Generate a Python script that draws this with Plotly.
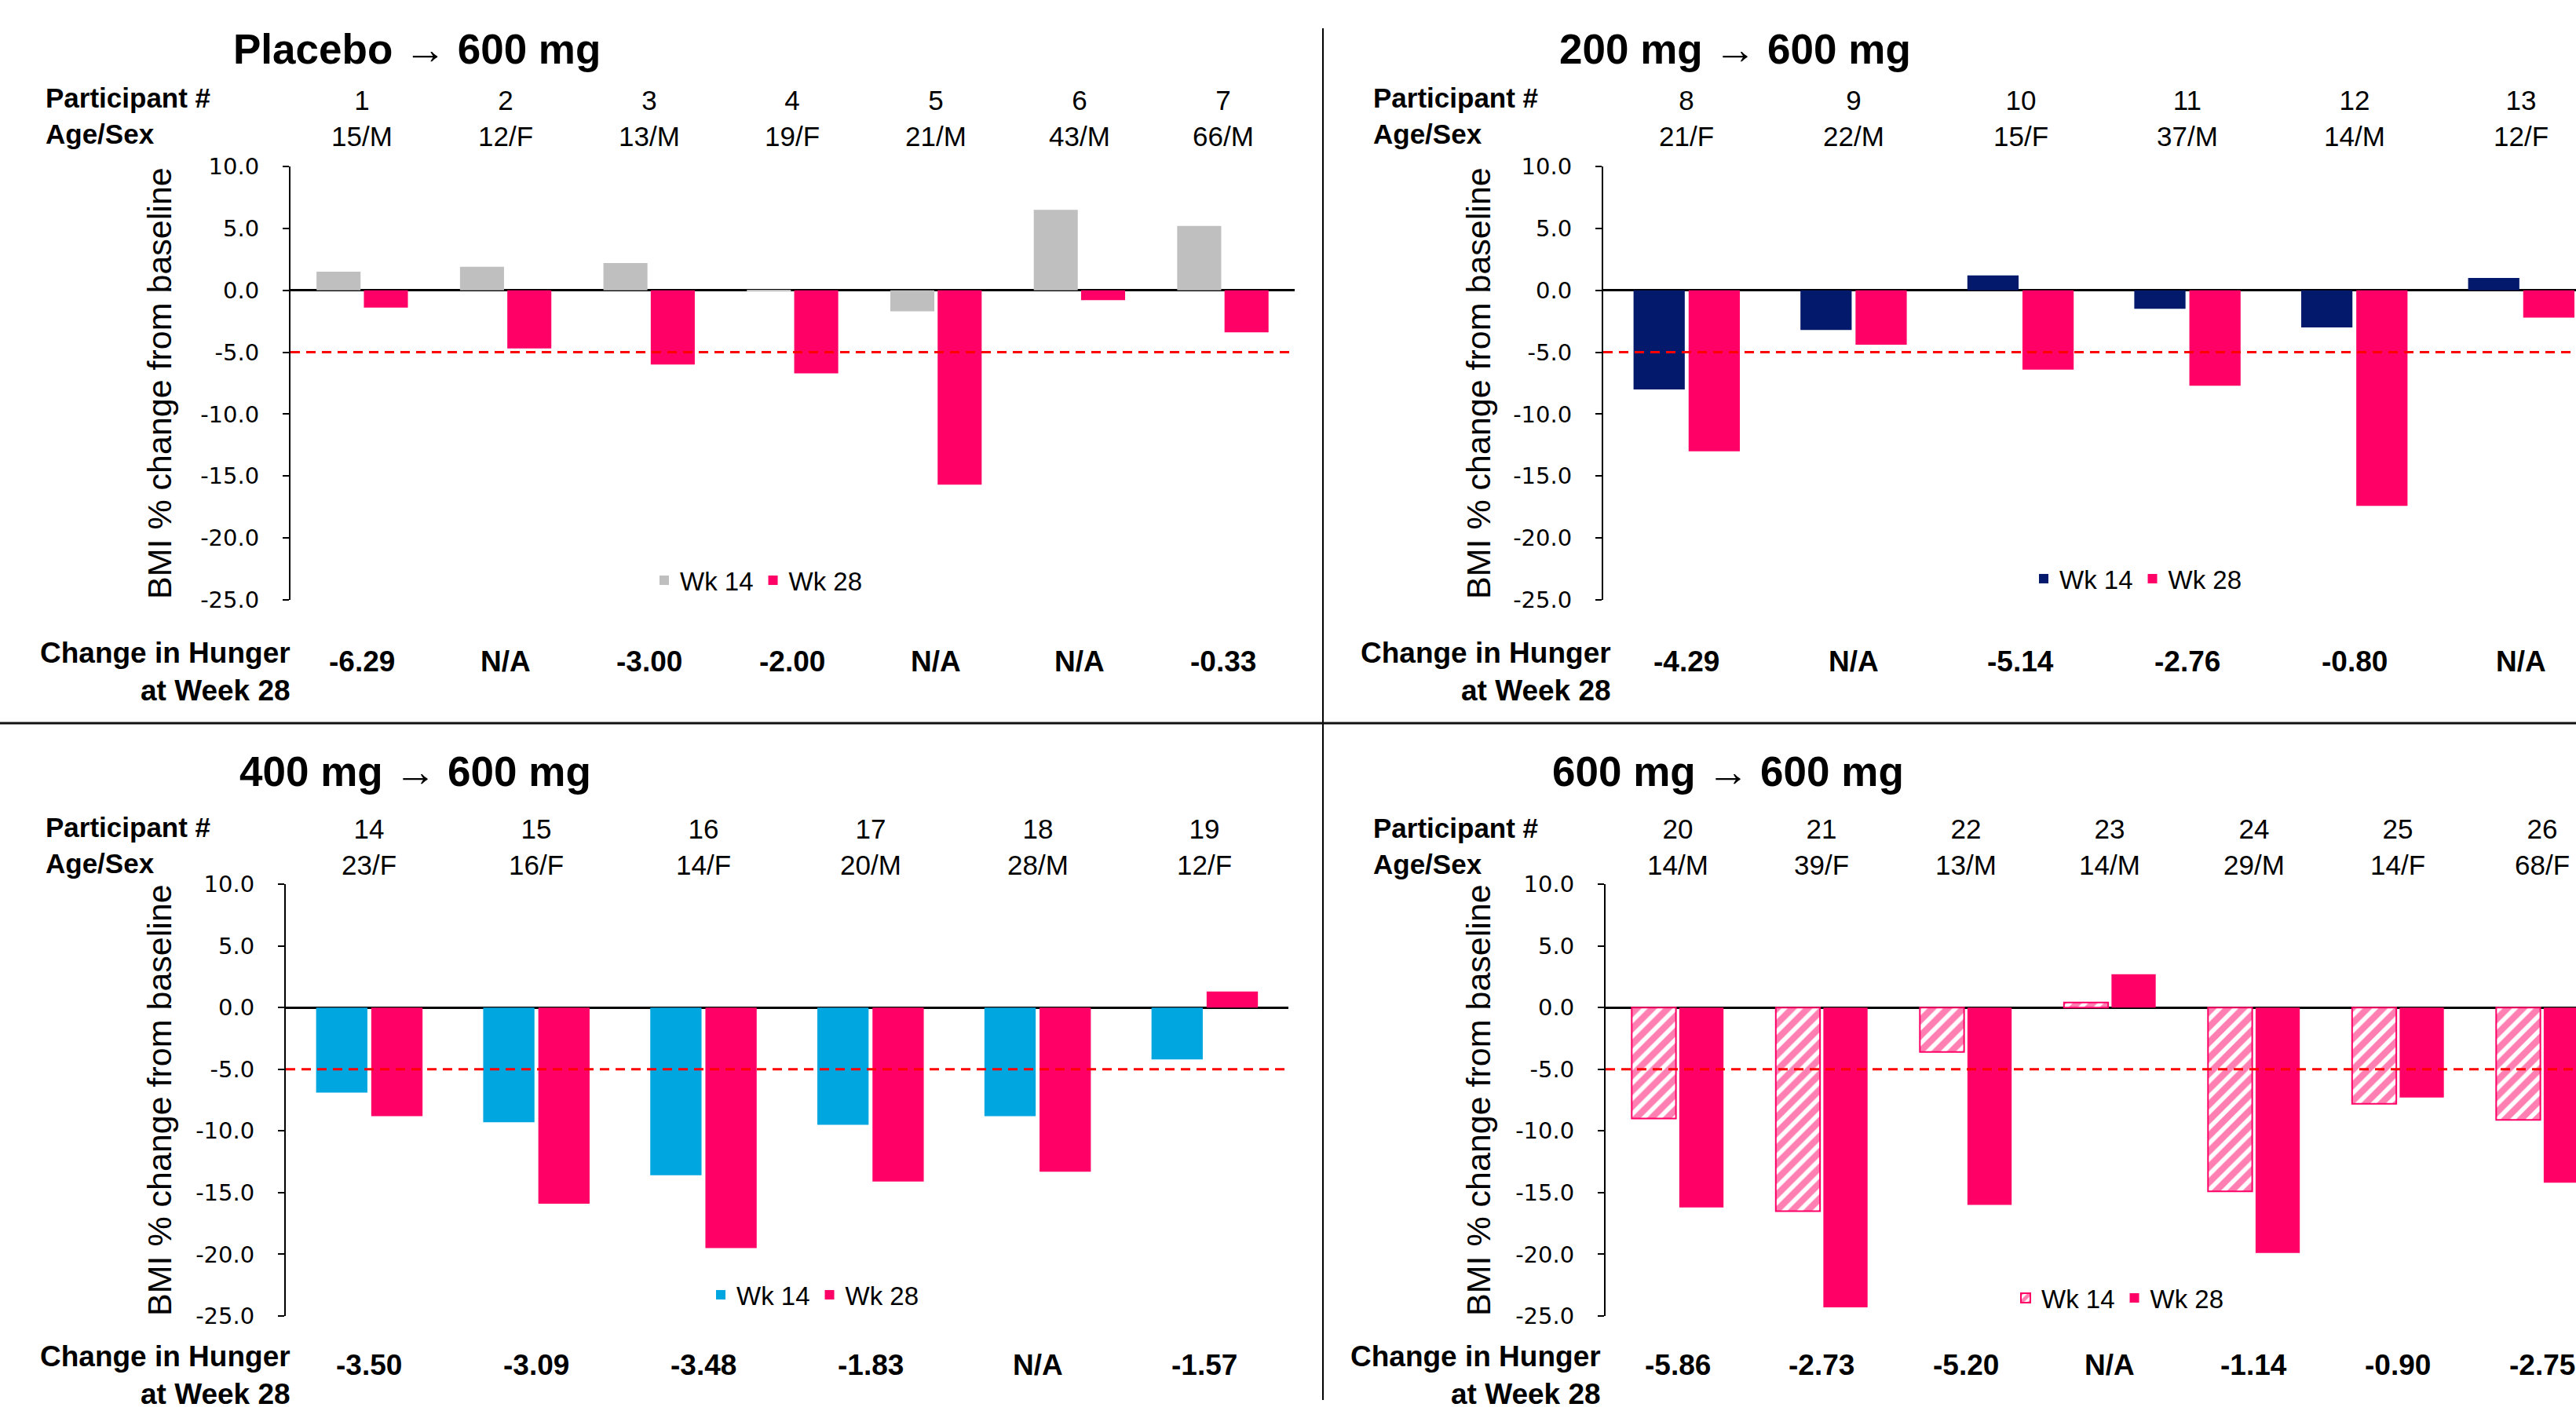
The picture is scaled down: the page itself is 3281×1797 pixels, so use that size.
import plotly.graph_objects as go

# ---------------- DATA ----------------
P1_TITLE = "Placebo \u2192 600 mg"
P1_IDS = ["1", "2", "3", "4", "5", "6", "7"]
P1_AGESEX = ["15/M", "12/F", "13/M", "19/F", "21/M", "43/M", "66/M"]
P1_WK14 = [1.5, 1.9, 2.2, -0.1, -1.7, 6.5, 5.2]
P1_WK28 = [-1.4, -4.7, -6.0, -6.7, -15.7, -0.8, -3.4]
P1_HUNGER = ["-6.29", "N/A", "-3.00", "-2.00", "N/A", "N/A", "-0.33"]

P2_TITLE = "200 mg \u2192 600 mg"
P2_IDS = ["8", "9", "10", "11", "12", "13"]
P2_AGESEX = ["21/F", "22/M", "15/F", "37/M", "14/M", "12/F"]
P2_WK14 = [-8.0, -3.2, 1.2, -1.5, -3.0, 1.0]
P2_WK28 = [-13.0, -4.4, -6.4, -7.7, -17.4, -2.2]
P2_HUNGER = ["-4.29", "N/A", "-5.14", "-2.76", "-0.80", "N/A"]

P3_TITLE = "400 mg \u2192 600 mg"
P3_IDS = ["14", "15", "16", "17", "18", "19"]
P3_AGESEX = ["23/F", "16/F", "14/F", "20/M", "28/M", "12/F"]
P3_WK14 = [-6.9, -9.3, -13.6, -9.5, -8.8, -4.2]
P3_WK28 = [-8.8, -15.9, -19.5, -14.1, -13.3, 1.3]
P3_HUNGER = ["-3.50", "-3.09", "-3.48", "-1.83", "N/A", "-1.57"]

P4_TITLE = "600 mg \u2192 600 mg"
P4_IDS = ["20", "21", "22", "23", "24", "25", "26"]
P4_AGESEX = ["14/M", "39/F", "13/M", "14/M", "29/M", "14/F", "68/F"]
P4_WK14 = [-9.0, -16.5, -3.6, 0.4, -14.9, -7.8, -9.1]
P4_WK28 = [-16.2, -24.3, -16.0, 2.7, -19.9, -7.3, -14.2]
P4_HUNGER = ["-5.86", "-2.73", "-5.20", "N/A", "-1.14", "-0.90", "-2.75"]

SERIES_NAMES = ["Wk 14", "Wk 28"]
Y_TICKS = [10, 5, 0, -5, -10, -15, -20, -25]
Y_TICK_LABELS = ["10.0", "5.0", "0.0", "-5.0", "-10.0", "-15.0", "-20.0", "-25.0"]
THRESHOLD = -5
Y_TITLE = "BMI % change from baseline"
ROW_LABELS = ["Participant #", "Age/Sex"]
HUNGER_LABEL = ["Change in Hunger", "at Week 28"]

# ---------------- STYLE ----------------
W, H = 3281, 1797
PINK = "#FF0066"
GREY = "#BFBFBF"
NAVY = "#03196B"
CYAN = "#00A6DF"
FONT = "Liberation Sans, Arial, sans-serif"
TICK_FONT = "DejaVu Sans, Liberation Sans, sans-serif"


def px(x):
    return x / W


def py(y):
    return 1 - y / H


def bold_lines(lines):
    return "<br>".join("<b>" + s + "</b>" for s in lines)


panels = [
    dict(title=P1_TITLE, ids=P1_IDS, ages=P1_AGESEX, wk14=P1_WK14, wk28=P1_WK28,
         hunger=P1_HUNGER, c14=GREY, hatch=False,
         xdom=(370, 1649), cat_w=182.7, ydom=(212, 764), title_xy=(531, 62),
         lbl_x=56, lbl_y=148, num_y=151, h_right=372, h_y=855,
         hv_y=842, yt_x=203, leg=(965, 739)),
    dict(title=P2_TITLE, ids=P2_IDS, ages=P2_AGESEX, wk14=P2_WK14, wk28=P2_WK28,
         hunger=P2_HUNGER, c14=NAVY, hatch=False,
         xdom=(2042, 3281), cat_w=212.6, ydom=(212, 764), title_xy=(2210, 62),
         lbl_x=1747, lbl_y=148, num_y=151, h_right=2054, h_y=855,
         hv_y=842, yt_x=1883, leg=(2722, 737)),
    dict(title=P3_TITLE, ids=P3_IDS, ages=P3_AGESEX, wk14=P3_WK14, wk28=P3_WK28,
         hunger=P3_HUNGER, c14=CYAN, hatch=False,
         xdom=(364, 1641), cat_w=212.8, ydom=(1126, 1676), title_xy=(529, 983),
         lbl_x=56, lbl_y=1076, num_y=1078, h_right=372, h_y=1751,
         hv_y=1738, yt_x=203, leg=(1037, 1649)),
    dict(title=P4_TITLE, ids=P4_IDS, ages=P4_AGESEX, wk14=P4_WK14, wk28=P4_WK28,
         hunger=P4_HUNGER, c14=PINK, hatch=True,
         xdom=(2045, 3281), cat_w=183.5, ydom=(1126, 1676), title_xy=(2201, 983),
         lbl_x=1747, lbl_y=1077, num_y=1078, h_right=2041, h_y=1751,
         hv_y=1738, yt_x=1883, leg=(2699, 1653)),
]

fig = go.Figure()
annotations = []
shapes = []
layout_axes = {}

for i, p in enumerate(panels, start=1):
    sfx = "" if i == 1 else str(i)
    xa, ya = "x" + sfx, "y" + sfx
    leg = "legend" + sfx
    xs = list(range(len(p["ids"])))

    if p["hatch"]:
        m14 = dict(color="white", line=dict(color=PINK, width=2),
                   pattern=dict(shape="/", fgcolor=PINK, bgcolor="white",
                                size=14, solidity=0.6))
    else:
        m14 = dict(color=p["c14"], line=dict(width=0))
    fig.add_trace(go.Bar(x=xs, y=p["wk14"], name=SERIES_NAMES[0], marker=m14,
                         xaxis=xa, yaxis=ya, legend=leg, showlegend=True))
    fig.add_trace(go.Bar(x=xs, y=p["wk28"], name=SERIES_NAMES[1],
                         marker=dict(color=PINK, line=dict(width=0)),
                         xaxis=xa, yaxis=ya, legend=leg, showlegend=True))

    x0, x1 = p["xdom"]
    xr_end = -0.5 + (x1 - x0) / p["cat_w"]
    layout_axes["xaxis" + sfx] = dict(
        domain=[px(x0), px(x1)], range=[-0.5, xr_end], anchor=ya,
        showticklabels=False, showline=False, showgrid=False, zeroline=False,
        ticks="", fixedrange=True, automargin=False)
    layout_axes["yaxis" + sfx] = dict(
        domain=[py(p["ydom"][1]), py(p["ydom"][0])], range=[-25, 10], anchor=xa,
        tickmode="array", tickvals=Y_TICKS, ticktext=Y_TICK_LABELS,
        ticks="outside", ticklen=8, tickwidth=2, tickcolor="black",
        ticklabelstandoff=24,
        tickfont=dict(family=TICK_FONT, size=29, color="black"),
        showline=True, linecolor="black", linewidth=2, showgrid=False,
        zeroline=True, zerolinecolor="black", zerolinewidth=3, fixedrange=True,
        automargin=False)
    layout_axes[leg] = dict(
        x=px(p["leg"][0]), y=py(p["leg"][1]), xanchor="center", yanchor="middle",
        orientation="h", bgcolor="rgba(0,0,0,0)", borderwidth=0,
        font=dict(family=FONT, size=33, color="black"), traceorder="normal")

    # threshold line
    shapes.append(dict(type="line", xref=xa + " domain", yref=ya, x0=0, x1=1,
                       y0=THRESHOLD, y1=THRESHOLD,
                       line=dict(color="#FF0000", width=3, dash="12px,8px"),
                       layer="above"))

    # panel title
    annotations.append(dict(text="<b>" + p["title"] + "</b>", xref="paper", yref="paper",
                            x=px(p["title_xy"][0]), y=py(p["title_xy"][1]),
                            xanchor="center", yanchor="middle", showarrow=False,
                            font=dict(family=FONT, size=53, color="black")))
    # row labels
    annotations.append(dict(text=bold_lines(ROW_LABELS), xref="paper", yref="paper",
                            x=px(p["lbl_x"]), y=py(p["lbl_y"]), xanchor="left",
                            yanchor="middle", align="left", showarrow=False,
                            font=dict(family=FONT, size=35, color="black")))
    # participant ids / age-sex and hunger values
    for k, (pid, ag, hv) in enumerate(zip(p["ids"], p["ages"], p["hunger"])):
        annotations.append(dict(text=pid + "<br>" + ag, xref=xa, yref="paper", x=k,
                                y=py(p["num_y"]), xanchor="center", yanchor="middle",
                                align="center", showarrow=False,
                                font=dict(family=FONT, size=35, color="black")))
        annotations.append(dict(text="<b>" + hv + "</b>", xref=xa, yref="paper", x=k,
                                y=py(p["hv_y"]), xanchor="center", yanchor="middle",
                                showarrow=False,
                                font=dict(family=FONT, size=37, color="black")))
    # hunger label
    annotations.append(dict(text=bold_lines(HUNGER_LABEL), xref="paper", yref="paper",
                            x=px(p["h_right"]), y=py(p["h_y"]), xanchor="right",
                            yanchor="middle", align="right", showarrow=False,
                            font=dict(family=FONT, size=37, color="black")))
    # y title
    annotations.append(dict(text=Y_TITLE, xref="paper", yref="paper",
                            x=px(p["yt_x"]), y=py((p["ydom"][0] + p["ydom"][1]) / 2),
                            xanchor="center", yanchor="middle", textangle=-90,
                            showarrow=False,
                            font=dict(family=FONT, size=43, color="black")))

# separators
shapes.append(dict(type="line", xref="paper", yref="paper", x0=px(1685), x1=px(1685),
                   y0=py(36), y1=py(1783), line=dict(color="black", width=2)))
shapes.append(dict(type="line", xref="paper", yref="paper", x0=0, x1=1,
                   y0=py(921), y1=py(921), line=dict(color="#111111", width=3)))

fig.update_layout(
    width=W, height=H, autosize=False,
    margin=dict(l=0, r=0, t=0, b=0, pad=0, autoexpand=False),
    paper_bgcolor="white", plot_bgcolor="white",
    barmode="group", bargap=0.34, bargroupgap=0.07,
    font=dict(family=FONT, color="black"),
    annotations=annotations, shapes=shapes,
    **layout_axes,
)

fig.write_html("out.html", config={"displayModeBar": False},
               post_script="document.body.style.margin='0px';document.body.style.overflow='hidden';")
